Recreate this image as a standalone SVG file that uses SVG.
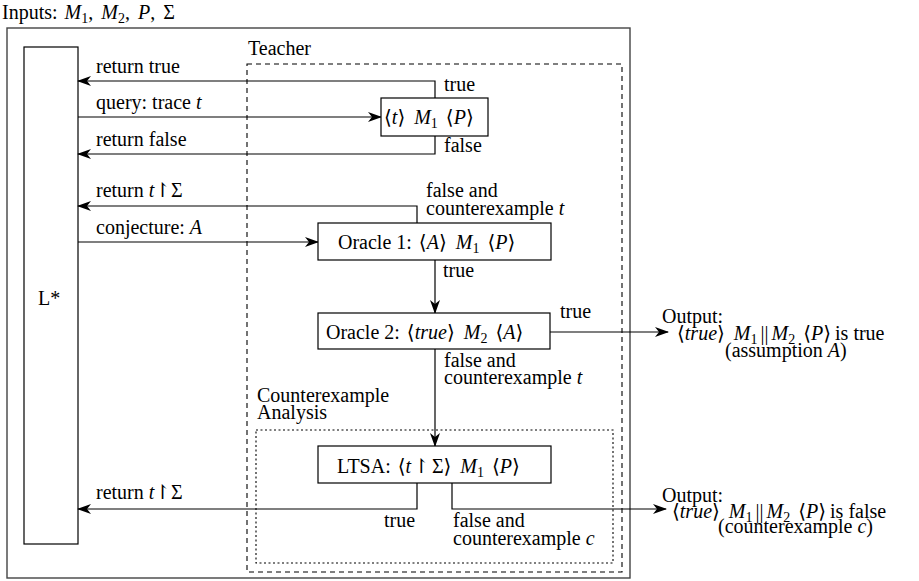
<svg xmlns="http://www.w3.org/2000/svg" width="919" height="581" viewBox="0 0 919 581" font-family="'Liberation Serif', 'Times New Roman', 'DejaVu Serif', serif" font-size="20">
<style>
text{font-family:"Liberation Serif","Times New Roman","DejaVu Serif",serif;font-size:20px;fill:#000}
.i{font-style:italic}
.s{font-size:14px}
.box{fill:#fff;stroke:#000;stroke-width:1.2}
.ln{fill:none;stroke:#000;stroke-width:1.2}
</style>
<defs>
<marker id="ah" markerWidth="14" markerHeight="10" refX="13" refY="5" orient="auto" markerUnits="userSpaceOnUse">
<path d="M0,0 L14,5 L0,10 L4,5 z" fill="#000"/>
</marker>
</defs>
<rect width="919" height="581" fill="#fff"/>
<text x="2" y="19">Inputs: <tspan class="i" dx="2">M</tspan><tspan class="s" dy="4">1</tspan><tspan dy="-4">,</tspan><tspan class="i" dx="8">M</tspan><tspan class="s" dy="4">2</tspan><tspan dy="-4">,</tspan><tspan class="i" dx="8">P</tspan>,<tspan dx="8">Σ</tspan></text>
<g id="outer"><rect x="7" y="28" width="623" height="550" fill="none" stroke="#444" stroke-width="1.4"/></g>
<g id="teacher">
<rect x="247" y="64" width="375" height="508" fill="none" stroke="#000" stroke-width="1.1" stroke-dasharray="5,4"/>
<text x="248" y="55">Teacher</text>
</g>
<g id="cexbox">
<rect x="256" y="430" width="357" height="133" fill="none" stroke="#000" stroke-width="1.1" stroke-dasharray="2,2.5"/>
<text x="257" y="402">Counterexample</text>
<text x="257" y="419">Analysis</text>
</g>
<g id="lstar">
<rect class="box" x="24" y="47" width="54" height="497"/>
<text x="38" y="305">L*</text>
</g>
<g id="connectors">
<path class="ln" d="M435,98 V81 H78" marker-end="url(#ah)"/>
<path class="ln" d="M78,117 H381" marker-end="url(#ah)"/>
<path class="ln" d="M435,136 V154 H78" marker-end="url(#ah)"/>
<path class="ln" d="M417,223 V206 H78" marker-end="url(#ah)"/>
<path class="ln" d="M78,242 H318" marker-end="url(#ah)"/>
<path class="ln" d="M435,260 V313" marker-end="url(#ah)"/>
<path class="ln" d="M550,332 H668" marker-end="url(#ah)"/>
<path class="ln" d="M435,349 V446" marker-end="url(#ah)"/>
<path class="ln" d="M417,483 V509 H78" marker-end="url(#ah)"/>
<path class="ln" d="M452,483 V509 H666" marker-end="url(#ah)"/>
</g>
<g id="labels">
<text x="96" y="73">return true</text>
<text x="96" y="109">query: trace <tspan class="i">t</tspan></text>
<text x="96" y="146">return false</text>
<text x="444" y="91">true</text>
<text x="444" y="152">false</text>
<text x="96" y="197">return <tspan class="i">t</tspan>↾Σ</text>
<text x="96" y="234">conjecture: <tspan class="i">A</tspan></text>
<text x="426" y="197">false and</text>
<text x="426" y="215">counterexample <tspan class="i">t</tspan></text>
<text x="443" y="277">true</text>
<text x="560" y="318">true</text>
<text x="444" y="367">false and</text>
<text x="444" y="384">counterexample <tspan class="i">t</tspan></text>
<text x="96" y="499">return <tspan class="i">t</tspan>↾Σ</text>
<text x="384" y="527">true</text>
<text x="453" y="527">false and</text>
<text x="453" y="545">counterexample <tspan class="i">c</tspan></text>
</g>
<g id="query">
<rect class="box" x="381" y="98" width="107" height="38"/>
<text x="384" y="124">⟨<tspan class="i">t</tspan>⟩<tspan class="i" dx="9">M</tspan><tspan class="s" dy="4">1</tspan><tspan dx="8" dy="-4">⟨</tspan><tspan class="i">P</tspan>⟩</text>
</g>
<g id="oracle1">
<rect class="box" x="318" y="223" width="233" height="37"/>
<text x="338" y="249">Oracle 1:<tspan dx="7">⟨</tspan><tspan class="i">A</tspan>⟩<tspan class="i" dx="9">M</tspan><tspan class="s" dy="4">1</tspan><tspan dx="8" dy="-4">⟨</tspan><tspan class="i">P</tspan>⟩</text>
</g>
<g id="oracle2">
<rect class="box" x="318" y="313" width="232" height="36"/>
<text x="326" y="339">Oracle 2:<tspan dx="7">⟨</tspan><tspan class="i">true</tspan>⟩<tspan class="i" dx="9">M</tspan><tspan class="s" dy="4">2</tspan><tspan dx="8" dy="-4">⟨</tspan><tspan class="i">A</tspan>⟩</text>
</g>
<g id="ltsa">
<rect class="box" x="318" y="446" width="233" height="37"/>
<text x="337" y="473">LTSA:<tspan dx="7">⟨</tspan><tspan class="i">t</tspan><tspan dx="2">↾</tspan><tspan dx="2">Σ⟩</tspan><tspan class="i" dx="9">M</tspan><tspan class="s" dy="4">1</tspan><tspan dx="8" dy="-4">⟨</tspan><tspan class="i">P</tspan>⟩</text>
</g>
<g id="out1">
<text x="662" y="323">Output:</text>
<text x="677" y="340">⟨<tspan class="i">true</tspan>⟩<tspan class="i" dx="9">M</tspan><tspan class="s" dy="4">1</tspan><tspan dx="3" dy="-4">||</tspan><tspan class="i" dx="3">M</tspan><tspan class="s" dy="4">2</tspan><tspan dx="8" dy="-4">⟨</tspan><tspan class="i">P</tspan>⟩<tspan dx="4">is true</tspan></text>
<text x="725" y="357">(assumption <tspan class="i">A</tspan>)</text>
</g>
<g id="out2">
<text x="662" y="502">Output:</text>
<text x="672" y="518">⟨<tspan class="i">true</tspan>⟩<tspan class="i" dx="9">M</tspan><tspan class="s" dy="4">1</tspan><tspan dx="3" dy="-4">||</tspan><tspan class="i" dx="3">M</tspan><tspan class="s" dy="4">2</tspan><tspan dx="8" dy="-4">⟨</tspan><tspan class="i">P</tspan>⟩<tspan dx="4">is false</tspan></text>
<text x="718" y="533">(counterexample <tspan class="i">c</tspan>)</text>
</g>
</svg>
